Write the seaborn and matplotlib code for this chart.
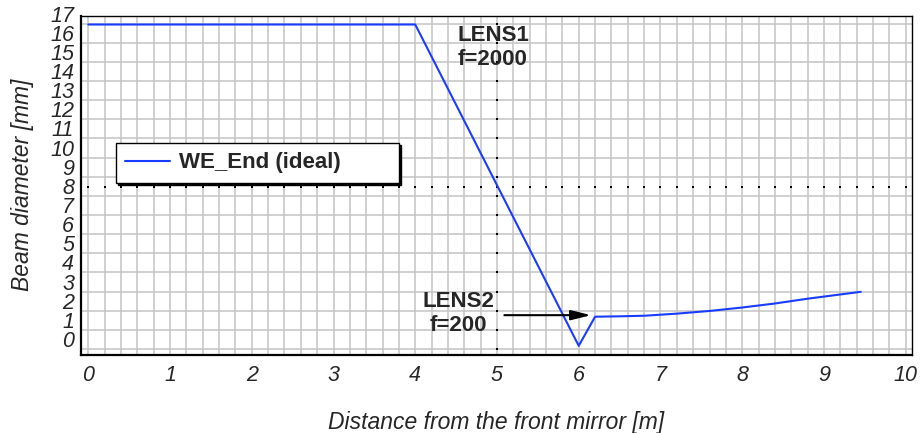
import numpy as np
import matplotlib
matplotlib.use("Agg")
import matplotlib.pyplot as plt
import matplotlib.transforms as mtransforms
import seaborn as sns

# beam diameter along the path
distance_m = [0.0, 4.0, 6.0, 6.2, 6.5, 6.8, 7.2, 7.6, 8.0, 8.4, 8.8, 9.45]
diameter_mm = [16.95, 16.95, 0.17, 1.69, 1.71, 1.74, 1.85, 1.99, 2.17, 2.38, 2.63, 2.99]
series_name = "WE_End (ideal)"

# cursor cross-hair
cursor_x = 5.0
cursor_y = 8.48

# lens annotations
lens1_label = "LENS1\nf=2000"
lens1_pos = (4.52, 15.73)
lens2_label = "LENS2\nf=200"
lens2_pos = (4.53, 1.87)
arrow_start = (5.09, 1.77)
arrow_end = (6.15, 1.77)

x_ticks = list(range(0, 11))
y_ticks = list(range(0, 18))

sns.set_style("white")
plt.rcParams['font.family'] = ['Liberation Sans', 'DejaVu Sans']

fig = plt.figure(figsize=(9.21, 4.33), dpi=100)
ax = fig.add_axes([81 / 921, (433 - 355) / 433, (912 - 81) / 921, (355 - 15.5) / 433])

line_color = '#1a3cff'
grid_color = '#c4c4c4'

# grid: x every 0.2, y every 1
ax.set_xticks(np.arange(0, 10.01, 0.2), minor=True)
ax.grid(True, which='both', axis='x', color=grid_color, lw=1.1)
ax.grid(True, which='major', axis='y', color=grid_color, lw=1.1)
ax.set_axisbelow(True)

sns.lineplot(x=distance_m, y=diameter_mm, ax=ax, color=line_color, lw=1.5,
             label=series_name, sort=False, estimator=None, zorder=3)

# dotted cursor lines (small dots sitting on the grid lines)
ax.plot(np.arange(0, 10.01, 0.2), [cursor_y] * 51, ls='none', marker='s', ms=1.5,
        mew=0, color='black', zorder=2)
ax.plot([cursor_x] * len(y_ticks), y_ticks, ls='none', marker='s', ms=1.5,
        mew=0, color='black', zorder=2)

ax.set_xlim(-0.089, 10.077)
ax.set_ylim(-0.31, 17.42)

ax.set_xticks(x_ticks, [str(v) for v in x_ticks], fontstyle='italic', fontsize=15.5)
ax.set_yticks(y_ticks, [str(v) for v in y_ticks], fontstyle='italic', fontsize=15.5)
ax.tick_params(axis='both', which='both', length=0)
ax.tick_params(axis='x', pad=7)
ax.tick_params(axis='y', pad=5)
shift = mtransforms.ScaledTranslation(0, 10 / 100, fig.dpi_scale_trans)
for lbl in ax.get_yticklabels():
    lbl.set_transform(lbl.get_transform() + shift)

for side in ['top', 'right']:
    ax.spines[side].set_color('black')
    ax.spines[side].set_linewidth(1.0)
for side in ['left', 'bottom']:
    ax.spines[side].set_color('black')
    ax.spines[side].set_linewidth(1.6)

ax.set_xlabel("Distance from the front mirror [m]", fontsize=16.5, fontstyle='italic')
ax.set_ylabel("Beam diameter [mm]", fontsize=16.5, fontstyle='italic')
ax.xaxis.set_label_coords(0.5, (355 - 411) / 339.5)
ax.yaxis.set_label_coords((33.5 - 81) / 831, 0.5)

ax.text(lens1_pos[0], lens1_pos[1], lens1_label, fontsize=16, fontweight='bold',
        ha='left', va='center', zorder=5)
ax.text(lens2_pos[0], lens2_pos[1], lens2_label, fontsize=16, fontweight='bold',
        ha='center', va='center', multialignment='center', zorder=5)
ax.annotate('', xy=arrow_end, xytext=arrow_start,
            arrowprops=dict(arrowstyle='-|>,head_length=1.2,head_width=0.3',
                            color='black', lw=1.5, shrinkA=0, shrinkB=0), zorder=5)

leg = ax.legend(loc='upper left',
                bbox_to_anchor=((116 - 81) / 831, (355 - 183) / 339.5, 283 / 831, 40 / 339.5),
                mode='expand', borderaxespad=0, borderpad=0.42, handlelength=2.0,
                handletextpad=0.4, fancybox=False, framealpha=1,
                edgecolor='black', shadow={'color': 'black', 'alpha': 1, 'ox': 1.5, 'oy': -1.5},
                prop={'family': ['Liberation Sans', 'DejaVu Sans'], 'weight': 'bold', 'size': 16})
leg.get_frame().set_linewidth(1.0)

fig.savefig("out.png", dpi=100)
